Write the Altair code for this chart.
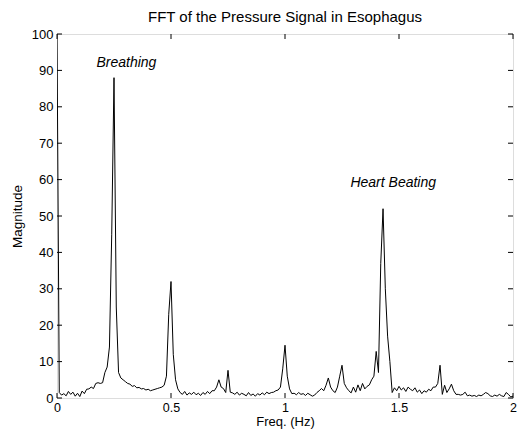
import altair as alt
import pandas as pd

freq = [round(i * 0.01, 2) for i in range(201)]
magnitude = [
    100, 1.5, 0.8, 1.2, 0.6, 1.8, 1.0, 1.6, 0.5, 1.3,      # 0.00-0.09
    0.4, 1.9, 1.2, 2.4, 2.5, 3.0, 2.6, 4.0, 4.2, 4.0,      # 0.10-0.19
    4.2, 7.0, 8.5, 14, 45, 88, 25, 7.0, 5.5, 5.0,          # 0.20-0.29
    4.5, 4.0, 3.8, 3.2, 3.4, 2.8, 2.9, 2.5, 2.6, 2.2,      # 0.30-0.39
    2.4, 2.0, 2.2, 2.4, 2.6, 2.8, 3.0, 3.5, 6.0, 23,       # 0.40-0.49
    32, 12, 5.0, 2.5, 1.5, 1.0, 1.8, 0.8, 1.4, 1.0,        # 0.50-0.59
    1.6, 0.9, 1.3, 0.7, 1.5, 1.0, 1.8, 1.2, 2.0, 2.0,      # 0.60-0.69
    3.0, 5.0, 3.0, 2.6, 1.5, 7.6, 1.6, 1.4, 1.0, 1.6,      # 0.70-0.79
    0.8, 1.3, 1.0, 0.6, 1.5, 0.7, 1.1, 0.5, 1.2, 0.8,      # 0.80-0.89
    1.4, 0.9, 1.6, 1.2, 1.5, 1.6, 2.0, 2.2, 3.0, 8.0,      # 0.90-0.99
    14.5, 6.0, 2.5, 1.2, 1.3, 0.9, 1.5, 1.0, 1.2, 0.7,     # 1.00-1.09
    1.3, 0.9, 0.5, 0.8, 1.5, 2.0, 2.6, 2.0, 3.5, 5.5,      # 1.10-1.19
    3.0, 2.0, 1.5, 3.0, 6.0, 9.0, 4.0, 2.8, 2.0, 1.4,      # 1.20-1.29
    3.0, 1.6, 3.6, 2.0, 4.0, 2.5, 3.2, 3.6, 5.0, 6.0,      # 1.30-1.39
    12.8, 7.0, 37, 52, 30, 17, 10, 1.5, 2.8, 2.0,          # 1.40-1.49
    3.2, 2.2, 2.8, 1.8, 3.0, 2.4, 2.0, 2.8, 1.6, 2.2,      # 1.50-1.59
    1.2, 2.0, 1.6, 2.4, 2.0, 3.0, 3.0, 4.0, 9.0, 1.0,      # 1.60-1.69
    3.5, 1.5, 2.5, 3.8, 2.0, 1.0, 1.0, 0.8, 1.0, 1.6,      # 1.70-1.79
    0.6, 0.8, 0.5, 0.7, 0.4, 0.8, 0.6, 1.0, 1.5, 1.2,      # 1.80-1.89
    0.6, 0.4, 0.8, 0.5, 1.0, 0.6, 0.4, 1.5, 1.0, 0.3,      # 1.90-1.99
    0.5,                                                   # 2.00
]

x_ticks = [0, 0.5, 1, 1.5, 2]
y_ticks = [0, 10, 20, 30, 40, 50, 60, 70, 80, 90, 100]

ann_text = ["Breathing", "Heart Beating"]
ann_x = [0.173, 1.287]
ann_y = [91, 58]

W, H = 456, 364
FONT = "Liberation Sans"

df = pd.DataFrame({"f": freq, "m": magnitude})
xt = pd.DataFrame({"f": x_ticks})
yt = pd.DataFrame({"m": y_ticks})
ann = pd.DataFrame({"t": ann_text, "f": ann_x, "m": ann_y})

xs = alt.Scale(domain=[0, 2], nice=False)
ys = alt.Scale(domain=[0, 100], nice=False)

xaxis = alt.Axis(values=x_ticks, tickSize=0, labelPadding=3, grid=False,
                 domain=False, labelFontSize=12.5, titleFontSize=13,
                 titleFontWeight="normal", labelFont=FONT, titleFont=FONT,
                 titlePadding=2, labelColor="black", titleColor="black",
                 labelFlush=False, labelExpr="format(datum.value, '~g')")
yaxis = alt.Axis(values=y_ticks, tickSize=0, labelPadding=4, grid=False,
                 domain=False, labelFontSize=13, titleFontSize=13.5,
                 titleFontWeight="normal", labelFont=FONT, titleFont=FONT,
                 titlePadding=7, labelColor="black", titleColor="black")

X = alt.X("f:Q", scale=xs, title="Freq. (Hz)", axis=xaxis)
Y = alt.Y("m:Q", scale=ys, title="Magnitude", axis=yaxis)

line = alt.Chart(df).mark_line(color="black", strokeWidth=1, clip=True).encode(x=X, y=Y)

tick_l = alt.Chart(yt).mark_rule(color="black", strokeWidth=1).encode(
    y=Y, x=alt.value(0), x2=alt.value(5))
tick_r = alt.Chart(yt).mark_rule(color="black", strokeWidth=1).encode(
    y=Y, x=alt.value(W - 5), x2=alt.value(W))
tick_b = alt.Chart(xt).mark_rule(color="black", strokeWidth=1).encode(
    x=X, y=alt.value(H - 5), y2=alt.value(H))
tick_t = alt.Chart(xt).mark_rule(color="black", strokeWidth=1).encode(
    x=X, y=alt.value(0), y2=alt.value(5))

text = alt.Chart(ann).mark_text(align="left", baseline="alphabetic", fontStyle="italic",
                                fontSize=14, font=FONT, color="black").encode(
    x=X, y=Y, text="t:N",
)

chart = alt.layer(line, tick_l, tick_r, tick_b, tick_t, text).properties(
    width=W, height=H,
    title=alt.TitleParams("FFT of the Pressure Signal in Esophagus", fontSize=15,
                          font=FONT, fontWeight="normal", color="black", offset=3),
    autosize=alt.AutoSizeParams(type="none"),
    padding={"left": 49, "top": 26, "right": 4, "bottom": 31},
).configure_view(stroke="black", strokeWidth=1).configure(background="white")

chart.save("out.html", embed_options={"renderer": "svg", "actions": False})
